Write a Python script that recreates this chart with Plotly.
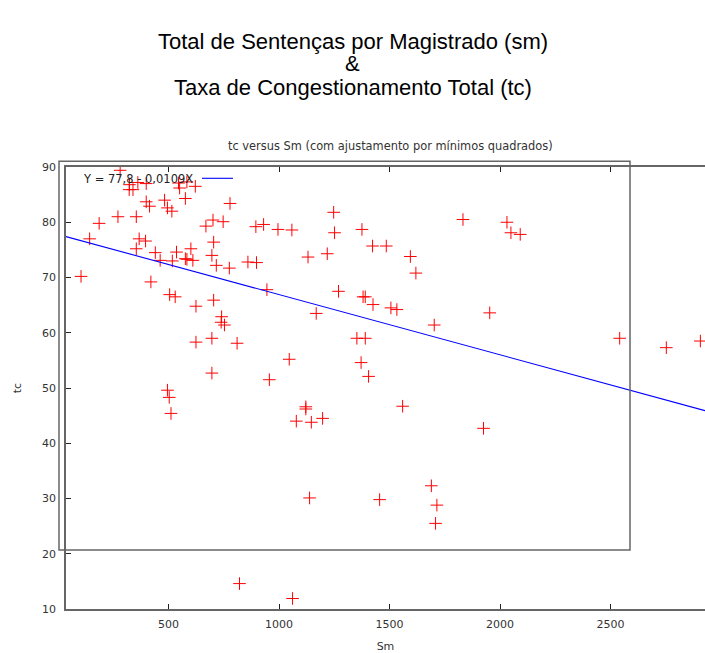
import plotly.graph_objects as go
import numpy as np

# Data (Sm, tc)
sm = [281, 323, 322, 339, 361, 399, 482, 495, 515, 399, 414, 576, 545, 583, 550, 621,
      271, 186, 354, 669, 701, 143, 367, 396, 354, 440, 462, 517, 536, 576, 583, 601,
      610, 704, 696, 716, 104, 420, 778, 747, 895, 930, 995, 1058, 1247, 1251, 1375,
      1423, 1131, 1218, 859, 898, 775, 1832, 2031, 2049, 2091, 1485, 1594, 1619, 1380,
      1390, 1425, 1506, 1533, 1953, 1702, 1352, 1390, 2541, 2752, 2906, 1371, 1405,
      945, 1269, 1168, 740, 738, 753, 810, 1046, 956, 1121, 1121, 1078, 1146, 1197,
      505, 530, 624, 704, 624, 696, 696, 495, 503, 511, 1138, 1559, 1925, 1689, 1455,
      1714, 1708, 821, 1061]
tc = [89.4, 86.8, 85.9, 85.9, 87.2, 87.0, 84.0, 82.6, 82.0, 83.7, 82.9, 84.3, 87.1, 87.3, 86.2, 86.5,
      81.0, 79.8, 81.0, 79.3, 80.4, 77.0, 77.0, 76.6, 75.2, 74.5, 73.1, 73.0, 74.6, 73.4, 73.3, 75.2,
      73.1, 76.4, 74.0, 72.2, 70.2, 69.2, 83.4, 80.1, 79.2, 79.6, 78.7, 78.6, 81.8, 78.1, 78.7,
      75.7, 73.7, 74.3, 72.8, 72.7, 71.7, 80.5, 80.0, 78.1, 77.8, 75.7, 73.8, 70.8, 66.5,
      66.5, 65.1, 64.5, 64.2, 63.6, 61.4, 59.0, 59.0, 59.0, 57.3, 58.5, 54.6, 52.1,
      67.8, 67.5, 63.5, 62.9, 61.9, 61.4, 58.1, 55.2, 51.5, 46.6, 46.2, 44.0, 43.8, 44.5,
      66.9, 66.5, 64.8, 65.9, 58.3, 59.0, 52.7, 49.6, 48.3, 45.4, 30.1, 46.7, 42.7, 32.3, 29.8,
      28.8, 25.5, 14.6, 11.9]

# Least squares fit shown in the chart
intercept = 77.8
slope = -0.0109
x_range = [36, 2927]
y_range = [10, 90]
x_ticks = [500, 1000, 1500, 2000, 2500]
y_ticks = [10, 20, 30, 40, 50, 60, 70, 80, 90]

fit_x = np.array(x_range, dtype=float)
fit_y = intercept + slope * fit_x

fig = go.Figure()
fig.add_trace(go.Scatter(
    x=sm, y=tc, mode="markers",
    marker=dict(symbol="cross-thin", size=9, line=dict(color="#ff0000", width=1)),
    showlegend=False))
fig.add_trace(go.Scatter(
    x=fit_x, y=fit_y, mode="lines",
    line=dict(color="#0000ff", width=1.1), showlegend=False))

W, H = 705, 653
L, B = 66, 44
T = 166.7
pw = W - L
ph = H - T - B

def px(xp):
    return (xp - L) / pw

def py(yp):
    return (H - B - yp) / ph

axis_font = dict(family="DejaVu Sans", size=11, color="#333333")

fig.update_layout(
    width=W, height=H,
    margin=dict(l=L, r=0, t=T, b=B, pad=0),
    paper_bgcolor="white", plot_bgcolor="white",
    font=axis_font,
    xaxis=dict(range=x_range, tickvals=x_ticks, ticks="inside", ticklen=5,
               tickcolor="#222222", tickwidth=1, showgrid=False, zeroline=False,
               showline=True, linecolor="#666666", linewidth=1.5, mirror="ticks",
               tickfont=axis_font, ticklabelstandoff=4,
               title=dict(text="Sm", font=axis_font, standoff=12)),
    yaxis=dict(range=y_range, tickvals=y_ticks, ticks="inside", ticklen=5,
               tickcolor="#222222", tickwidth=1, showgrid=False, zeroline=False,
               showline=True, linecolor="#666666", linewidth=1.5, mirror=False,
               tickfont=axis_font, ticklabelstandoff=6,
               title=dict(text="tc", font=axis_font, standoff=18)),
)

title_font = dict(family="Liberation Sans", size=22, color="#000000")
for text, ypix in [("Total de Sentenças por Magistrado (sm)", 41),
                   ("&", 63.5),
                   ("Taxa de Congestionamento Total (tc)", 87)]:
    fig.add_annotation(text=text, xref="paper", yref="paper",
                       x=px(352.5), y=py(ypix), xanchor="center", yanchor="middle",
                       showarrow=False, font=title_font, borderpad=0)

fig.add_annotation(text="tc versus Sm (com ajustamento por mínimos quadrados)",
                   xref="paper", yref="paper", x=px(390), y=py(146),
                   xanchor="center", yanchor="middle", showarrow=False,
                   font=dict(family="DejaVu Sans", size=11.4, color="#333333"))

# legend (gnuplot style: text then line sample)
fig.add_annotation(text="Y = 77,8 - 0,0109X", xref="paper", yref="paper",
                   x=px(195), y=py(179), xanchor="right", yanchor="middle",
                   showarrow=False, font=dict(family="DejaVu Sans", size=11.5, color="#222222"))
fig.add_shape(type="line", xref="paper", yref="paper",
              x0=px(202), x1=px(233), y0=py(178), y1=py(178),
              line=dict(color="#0000ff", width=1.1))

# leftover frame rectangle
fig.add_shape(type="rect", xref="paper", yref="paper",
              x0=px(59), x1=px(630), y0=py(550), y1=py(161),
              line=dict(color="#666666", width=1.5), fillcolor="rgba(0,0,0,0)", layer="above")

fig.write_html("out.html", config={"displayModeBar": False},
               post_script="document.body.style.margin='0';document.body.style.overflow='hidden';")
